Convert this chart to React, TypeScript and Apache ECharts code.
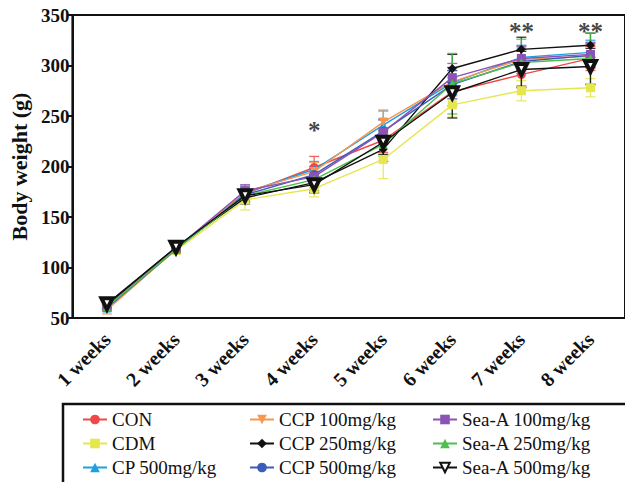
import React, { useEffect, useRef } from "react";
import * as echarts from "echarts";

const weeks = ["1 weeks", "2 weeks", "3 weeks", "4 weeks", "5 weeks", "6 weeks", "7 weeks", "8 weeks"];
const yTicks = [50, 100, 150, 200, 250, 300, 350];

const names = [
  "CON", "CDM", "CP 500mg/kg",
  "CCP 100mg/kg", "CCP 250mg/kg", "CCP 500mg/kg",
  "Sea-A 100mg/kg", "Sea-A 250mg/kg", "Sea-A 500mg/kg",
];

const CON = [62, 119, 173, 199, 226, 274, 291, 307];
const CDM = [61, 117, 167, 178, 207, 261, 275, 278];
const CP500 = [60, 118, 174, 197, 241, 283, 308, 313];
const CCP100 = [58, 118, 175, 195, 244, 284, 306, 309];
const CCP250 = [63, 120, 169, 184, 217, 297, 316, 320];
const CCP500 = [60, 118, 172, 192, 235, 281, 304, 310];
const SeaA100 = [61, 119, 176, 190, 234, 288, 307, 311];
const SeaA250 = [61, 118, 171, 187, 222, 282, 303, 307];
const SeaA500 = [64, 120, 171, 182, 224, 273, 296, 299];

const errCON = [3, 4, 6, 11, 12, 14, 12, 12];
const errCDM = [3, 4, 10, 8, 19, 12, 10, 9];
const errCP500 = [3, 4, 6, 8, 14, 12, 12, 12];
const errCCP100 = [4, 4, 6, 9, 12, 14, 12, 12];
const errCCP250 = [3, 4, 6, 8, 12, 14, 12, 12];
const errCCP500 = [3, 4, 6, 8, 12, 14, 12, 12];
const errSeaA100 = [3, 4, 6, 8, 12, 14, 12, 12];
const errSeaA250 = [3, 4, 6, 8, 12, 30, 23, 25];
const errSeaA500 = [3, 4, 6, 8, 12, 25, 18, 18];

const sigMarks: [number, number, string][] = [
  [3, 236, "*"],
  [6, 334, "**"],
  [7, 334, "**"],
];

const values = [CON, CDM, CP500, CCP100, CCP250, CCP500, SeaA100, SeaA250, SeaA500];
const errors = [errCON, errCDM, errCP500, errCCP100, errCCP250, errCCP500, errSeaA100, errSeaA250, errSeaA500];
const colors = ["#f04848", "#e6e64e", "#1e9fe0", "#f7964c", "#111111", "#3b5cb8", "#8c52b5", "#4cbf4c", "#111111"];
const symbols = ["circle", "rect", "triangle", "triangle", "diamond", "circle", "rect", "triangle", "triangle"];
const rotates = [0, 0, 0, 180, 0, 0, 0, 0, 180];

const FONT = "Liberation Serif";

export default function App() {
  const ref = useRef<HTMLDivElement>(null);
  useEffect(() => {
    document.body.style.margin = "0";
    const chart = echarts.init(ref.current!, undefined, { renderer: "svg" });

    const errSeries = values.map((vals, i) => ({
      type: "custom",
      name: names[i] + " SD",
      z: 2,
      data: vals.map((v, k) => [k, v - errors[i][k], v + errors[i][k]]),
      renderItem: (params: any, api: any) => {
        const x = api.value(0);
        const lo = api.coord([x, api.value(1)]);
        const hi = api.coord([x, api.value(2)]);
        const w = 5;
        const style = { stroke: colors[i], lineWidth: 1.3, opacity: 0.85 };
        return {
          type: "group",
          children: [
            { type: "line", shape: { x1: lo[0], y1: lo[1], x2: hi[0], y2: hi[1] }, style },
            { type: "line", shape: { x1: lo[0] - w, y1: lo[1], x2: lo[0] + w, y2: lo[1] }, style },
            { type: "line", shape: { x1: hi[0] - w, y1: hi[1], x2: hi[0] + w, y2: hi[1] }, style },
          ],
        };
      },
    }));

    const lineSeries = values.map((vals, i) => ({
      type: "line",
      name: names[i],
      data: vals,
      z: 3 + i,
      symbol: symbols[i],
      symbolRotate: rotates[i],
      symbolSize: i === 8 ? 11 : 9,
      showAllSymbol: true,
      lineStyle: { color: colors[i], width: 1.4 },
      itemStyle:
        i === 8
          ? { color: "#ffffff", borderColor: "#111111", borderWidth: 4 }
          : { color: colors[i], borderColor: colors[i], borderWidth: 0 },
    }));

    const legendBase = {
      orient: "vertical",
      top: 410,
      height: 120,
      itemWidth: 24,
      itemHeight: 12,
      itemGap: 5,
      padding: 0,
      textStyle: { fontFamily: FONT, fontSize: 19, color: "#111", lineHeight: 19 },
      selectedMode: false,
    };

    chart.setOption({
      animation: false,
      backgroundColor: "#ffffff",
      grid: {
        left: 70,
        top: 15,
        width: 560,
        bottom: 164,
        show: true,
        borderColor: "#111",
        borderWidth: 2,
      },
      legend: [
        { ...legendBase, left: 82, data: names.slice(0, 3) },
        { ...legendBase, left: 249, data: names.slice(3, 6) },
        { ...legendBase, left: 432, data: names.slice(6, 9) },
      ],
      xAxis: {
        type: "category",
        data: weeks,
        boundaryGap: true,
        axisLine: { lineStyle: { color: "#111", width: 2 } },
        axisTick: { alignWithLabel: true, inside: true, length: 6, lineStyle: { color: "#111", width: 2 } },
        axisLabel: {
          rotate: 45,
          fontFamily: FONT,
          fontWeight: "bold",
          fontSize: 20,
          color: "#111",
          margin: 18,
        },
      },
      yAxis: {
        type: "value",
        min: yTicks[0],
        max: yTicks[yTicks.length - 1],
        interval: 50,
        name: "Body weight (g)",
        nameLocation: "middle",
        nameGap: 38,
        nameTextStyle: { fontFamily: FONT, fontWeight: "bold", fontSize: 22, color: "#111" },
        splitLine: { show: false },
        axisLine: { show: true, lineStyle: { color: "#111", width: 2 } },
        axisTick: { show: true, length: 5, lineStyle: { color: "#111", width: 2 } },
        axisLabel: { fontFamily: FONT, fontWeight: "bold", fontSize: 19, color: "#111", margin: 3 },
      },
      graphic: [
        {
          type: "rect",
          shape: { x: 63, y: 404, width: 575, height: 90 },
          style: { fill: "none", stroke: "#111", lineWidth: 2.5 },
          silent: true,
        },
      ],
      series: [
        ...errSeries,
        ...lineSeries,
        {
          type: "scatter",
          name: "sig",
          data: sigMarks,
          symbolSize: 0,
          z: 20,
          encode: { x: 0, y: 1 },
          itemStyle: { color: "#111" },
          label: {
            show: true,
            position: "inside",
            formatter: (p: any) => p.value[2],
            fontFamily: FONT,
            fontWeight: "bold",
            fontSize: 25,
            color: "#111",
            textBorderWidth: 0,
            textBorderColor: "transparent",
          },
        },
      ],
    } as any);
    return () => chart.dispose();
  }, []);
  return <div ref={ref} style={{ width: 625, height: 482 }} />;
}
